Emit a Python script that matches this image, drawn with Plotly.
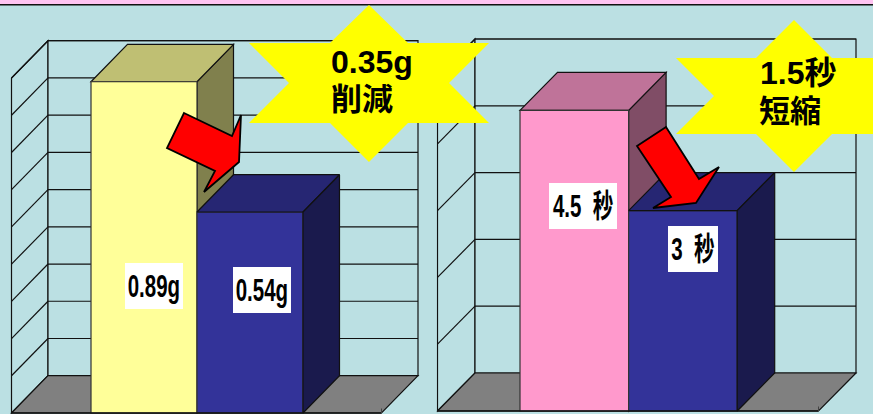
import plotly.graph_objects as go

W, H = 873, 414

# --- data ---
weight_labels = ["0.89g", "0.54g"]
weight_values = [0.89, 0.54]
weight_colors = ["#FFFF99", "#333399"]
weight_top_colors = ["#BFBF73", "#262673"]
weight_side_colors = ["#80804D", "#1A1A4D"]
weight_ticks = [0, 0.1, 0.2, 0.3, 0.4, 0.5, 0.6, 0.7, 0.8, 0.9]

time_labels = ["4.5\u00a0\u00a0秒", "3\u00a0\u00a0秒"]
time_values = [4.5, 3]
time_colors = ["#FF99CC", "#333399"]
time_top_colors = ["#BF7399", "#262673"]
time_side_colors = ["#804D66", "#1A1A4D"]
time_ticks = [0, 1, 2, 3, 4, 5]

WALL = "#BBE0E3"
FLOOR = "#808080"
LINE = "#111111"


def panel(fig, ax, values, colors, tops, sides, ticks, x_left, bar_w, y0_px, px_per_unit,
          dx_px, dy_px, front_left, back_right, dom):
    """Draw a pseudo-3D column panel on axes x<ax>/y<ax>; everything in data units."""
    suffix = "" if ax == 1 else str(ax)
    xref, yref = "x" + suffix, "y" + suffix
    dx, dy = dx_px / bar_w, dy_px / px_per_unit
    # x = 0 is the left edge of the first bar
    xpx = lambda px: (px - x_left) / bar_w
    x0, x1 = xpx(front_left), xpx(back_right - dx_px)
    top = ticks[-1]

    xa = dict(domain=dom, visible=False, fixedrange=True,
              range=[xpx(dom[0] * W), xpx(dom[1] * W)])
    ya = dict(domain=[0, 1], visible=False, fixedrange=True,
              range=[(y0_px - H) / px_per_unit, y0_px / px_per_unit])
    fig.update_layout({"xaxis" + suffix: xa, "yaxis" + suffix: ya})

    def poly(pts, fill, width=1.2, line=LINE):
        path = "M" + " L".join(f"{a},{b}" for a, b in pts) + " Z"
        fig.add_shape(type="path", path=path, xref=xref, yref=yref, layer="below",
                      fillcolor=fill, line=dict(color=line, width=width))

    def seg(a, b, c, d, width=1.2):
        fig.add_shape(type="line", x0=a, y0=b, x1=c, y1=d, xref=xref, yref=yref, layer="below",
                      line=dict(color=LINE, width=width))

    # walls and floor
    poly([(x0, 0), (x0 + dx, dy), (x0 + dx, top + dy), (x0, top)], WALL)
    poly([(x0 + dx, dy), (x1 + dx, dy), (x1 + dx, top + dy), (x0 + dx, top + dy)], WALL)
    poly([(x0, 0), (x1, 0), (x1 + dx, dy), (x0 + dx, dy)], FLOOR)
    for t in ticks[1:]:
        seg(x0, t, x0 + dx, t + dy)
        seg(x0 + dx, t + dy, x1 + dx, t + dy)

    # front faces through the bar trace
    fig.add_trace(go.Bar(x=[i + 0.5 for i in range(len(values))], y=values, width=1,
                         marker=dict(color=colors, line=dict(color="#333333", width=1.2)),
                         xaxis=xref, yaxis=yref, showlegend=False, hoverinfo="skip"))

    # depth faces: the first bar lies under the second bar's front, so it is a below-layer shape
    poly([(1, 0), (1 + dx, dy), (1 + dx, values[0] + dy), (1, values[0])], sides[0])
    poly([(0, values[0]), (1, values[0]), (1 + dx, values[0] + dy), (dx, values[0] + dy)], tops[0])
    v = values[1]
    for xs, ys, c in [
        ([1, 2, 2 + dx, 1 + dx, 1], [v, v, v + dy, v + dy, v], tops[1]),
        ([2, 2 + dx, 2 + dx, 2, 2], [0, dy, v + dy, v, 0], sides[1]),
    ]:
        fig.add_trace(go.Scatter(x=xs, y=ys, mode="lines", fill="toself", fillcolor=c,
                                 line=dict(color=LINE, width=1.2), xaxis=xref, yaxis=yref,
                                 showlegend=False, hoverinfo="skip"))
    fig.add_shape(type="line", x0=x0, y0=0, x1=x1, y1=0, xref=xref, yref=yref,
                  line=dict(color=LINE, width=1.6))
    fig.add_shape(type="line", x0=x1, y0=0, x1=x1, y1=4.5 / px_per_unit, xref=xref, yref=yref,
                  line=dict(color="#444444", width=1))


fig = go.Figure()
fig.update_layout(width=W, height=H, margin=dict(l=0, r=0, t=0, b=0),
                  paper_bgcolor=WALL, plot_bgcolor="rgba(0,0,0,0)",
                  barmode="overlay", showlegend=False)

panel(fig, 1, weight_values, weight_colors, weight_top_colors, weight_side_colors, weight_ticks,
      91, 106, 413, 372.2, 36.5, 37.3, 11.5, 418, [0, 436.5 / W])
panel(fig, 2, time_values, time_colors, time_top_colors, time_side_colors, time_ticks,
      520, 108.6, 411, 66.8, 37.5, 38, 437.5, 856, [436.5 / W, 1])


def px(x, y):
    return x / W, 1 - y / H


def overlay(pts, fill, width=0.0, line="black"):
    path = "M" + " L".join("{:.5f},{:.5f}".format(*px(*p)) for p in pts) + " Z"
    fig.add_shape(type="path", path=path, xref="paper", yref="paper", fillcolor=fill,
                  line=dict(color=line, width=width))


# heading strip
overlay([(0, 0), (873, 0), (873, 4), (0, 4)], "#FFC4F2")
overlay([(0, 4), (873, 4), (873, 5.5), (0, 5.5)], "#111111")

# call-out stars
overlay([(369, 5), (408, 43), (489, 43), (449, 83), (489, 123), (408, 123), (369, 162),
         (330, 123), (249, 123), (289, 83), (249, 43), (330, 43)], "#FFFF00")
overlay([(794, 20), (832, 58), (912, 58), (874, 96), (912, 134), (832, 134), (794, 172),
         (756, 134), (676, 134), (714, 96), (676, 58), (756, 58)], "#FFFF00")

# arrows
overlay([(184, 113), (232, 136), (241, 115), (239, 162), (204, 192), (215, 171), (167, 148)],
        "#FF0000", 1.8)
overlay([(666, 127), (699, 179), (719, 167), (696, 203), (653, 208), (671, 197), (637, 146)],
        "#FF0000", 1.8)


def label(text, x0, y0, x1, y1, size, dy=0):
    overlay([(x0, y0), (x1, y0), (x1, y1), (x0, y1)], "white")
    x, y = px((x0 + x1) / 2, (y0 + y1) / 2 + dy)
    fig.add_annotation(text="<b>" + text + "</b>", x=x, y=y, xref="paper", yref="paper",
                       showarrow=False, xanchor="center", yanchor="middle", borderpad=0,
                       font=dict(family="Liberation Sans, Noto Sans CJK JP", size=size, color="black"))


label(weight_labels[0], 125, 263, 183, 309, 32)
label(weight_labels[1], 233, 267, 291, 313, 32)
label(time_labels[0], 549, 183, 617, 229, 32)
label(time_labels[1], 668, 226, 718, 272, 32)


def callout(text, x0, yc, size):
    x, y = px(x0, yc)
    fig.add_annotation(text="<b>" + text + "</b>", x=x, y=y, xref="paper", yref="paper",
                       showarrow=False, xanchor="left", yanchor="middle", borderpad=0,
                       font=dict(family="Liberation Sans, Noto Sans CJK JP", size=size, color="black"))


callout("0.35g", 330, 62, 32)
callout("削減", 330, 100, 31)
callout("1.5秒", 759, 73, 32)
callout("短縮", 758, 112, 31)

# The reference labels on the bars are set in a tall, condensed gothic: squeeze those four texts.
squeeze = weight_labels + time_labels
script = """
var names = %s;
document.querySelectorAll('.annotation-text').forEach(function (t) {
  if (names.indexOf(t.textContent) < 0) return;
  var b = t.getBBox(), cx = b.x + b.width / 2;
  t.setAttribute('transform', 'translate(' + cx + ' 0) scale(0.64 1) translate(' + (-cx) + ' 0)');
});
document.body.style.margin = '0';
document.body.style.overflow = 'hidden';
""" % (str(squeeze))

fig.write_html("out.html", config=dict(displayModeBar=False), post_script=script)
